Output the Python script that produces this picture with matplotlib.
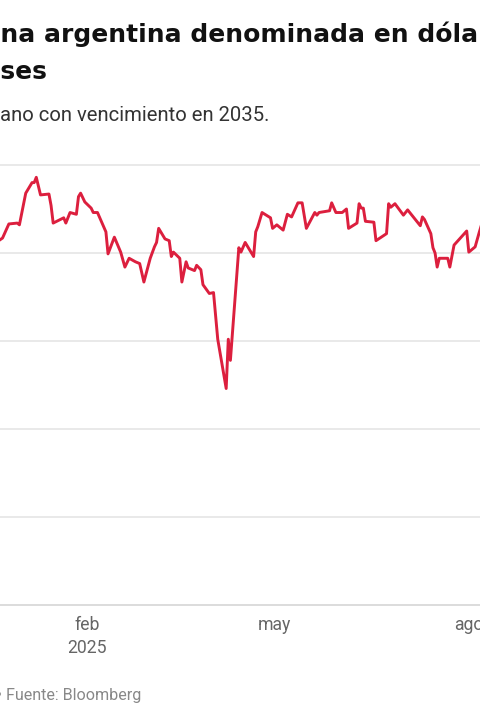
import pandas as pd
import matplotlib.pyplot as plt
import matplotlib.dates as mdates

# bond price
dates = ["2024-12-19", "2024-12-20", "2024-12-23", "2024-12-26", "2024-12-30", "2024-12-31",
         "2025-01-03", "2025-01-06", "2025-01-07", "2025-01-08", "2025-01-10", "2025-01-14",
         "2025-01-15", "2025-01-16", "2025-01-21", "2025-01-22", "2025-01-24", "2025-01-27",
         "2025-01-28", "2025-01-29", "2025-01-31", "2025-02-03", "2025-02-04", "2025-02-06",
         "2025-02-10", "2025-02-11", "2025-02-14", "2025-02-17", "2025-02-19", "2025-02-21",
         "2025-02-24", "2025-02-26", "2025-02-28", "2025-03-03", "2025-03-05", "2025-03-06",
         "2025-03-07", "2025-03-10", "2025-03-12", "2025-03-13", "2025-03-14", "2025-03-17",
         "2025-03-18", "2025-03-20", "2025-03-21", "2025-03-24", "2025-03-25", "2025-03-27",
         "2025-03-28", "2025-03-31", "2025-04-02", "2025-04-04", "2025-04-08", "2025-04-09",
         "2025-04-10", "2025-04-14", "2025-04-15", "2025-04-17", "2025-04-21", "2025-04-22",
         "2025-04-23", "2025-04-25", "2025-04-29", "2025-04-30", "2025-05-02", "2025-05-05",
         "2025-05-07", "2025-05-09", "2025-05-12", "2025-05-14", "2025-05-16", "2025-05-20",
         "2025-05-21", "2025-05-22", "2025-05-27", "2025-05-28", "2025-05-30", "2025-06-02",
         "2025-06-04", "2025-06-05", "2025-06-09", "2025-06-10", "2025-06-11", "2025-06-12",
         "2025-06-13", "2025-06-17", "2025-06-18", "2025-06-23", "2025-06-24", "2025-06-25",
         "2025-06-27", "2025-07-01", "2025-07-03", "2025-07-09", "2025-07-10", "2025-07-11",
         "2025-07-14", "2025-07-15", "2025-07-16", "2025-07-17", "2025-07-18", "2025-07-22",
         "2025-07-23", "2025-07-25", "2025-07-31", "2025-08-01", "2025-08-04", "2025-08-06",
         "2025-08-07"]
price = [65.3, 65.6, 65.85, 66.65, 66.7, 66.6,
         68.4, 69.0, 69.0, 69.3, 68.3, 68.35,
         67.7, 66.7, 67.0, 66.7, 67.3, 67.2,
         68.2, 68.4, 67.9, 67.55, 67.3, 67.3,
         66.2, 64.95, 65.9, 65.05, 64.2, 64.7,
         64.5, 64.4, 63.35, 64.7, 65.35, 65.6,
         66.4, 65.8, 65.7, 64.8, 65.05, 64.7,
         63.35, 64.5, 64.15, 64.0, 64.3, 64.05,
         63.2, 62.7, 62.75, 60.1, 57.3, 60.1,
         58.9, 65.3, 65.05, 65.6, 64.8, 66.2,
         66.5, 67.3, 67.0, 66.4, 66.6, 66.3,
         67.2, 67.05, 67.85, 67.85, 66.4, 67.3,
         67.15, 67.3, 67.4, 67.85, 67.3, 67.3,
         67.5, 66.4, 66.7, 67.8, 67.55, 67.55,
         66.8, 66.75, 65.7, 66.1, 67.8, 67.6,
         67.8, 67.15, 67.45, 66.55, 67.05, 66.9,
         66.1, 65.3, 65.0, 64.2, 64.7, 64.7,
         64.2, 65.45, 66.25, 65.05, 65.35, 66.2,
         66.6]

y_ticks = [45, 50, 55, 60, 65, 70]
x_ticks = ["2025-02-01", "2025-05-01", "2025-08-01"]
x_labels = ["feb\n2025", "may", "ago"]

title_1 = ("Deuda sobera", "na argentina denominada en dólares")
title_2 = ("en los últimos me", "ses")
subtitle = ("Precio del bono sober", "ano con vencimiento en 2035.")
source = ("Gráfico: LA NACION •", " Fuente: Bloomberg")

plt.rcParams['font.family'] = ['Roboto', 'DejaVu Sans']

W, H = 480, 720
fig = plt.figure(figsize=(W / 100, H / 100), dpi=100)
fig.patch.set_facecolor('white')

# the plot is cropped: it runs off both sides of the picture
ax = fig.add_axes([0, 0.13528, 1, 0.66])
ax.plot(pd.to_datetime(dates), price, color='#dc1f3e', lw=2.1, solid_joinstyle='round')

ax.set_yticks(y_ticks)
ax.set_yticklabels([])
ax.grid(axis='y', color='#e3e3e3', lw=1.1)
ax.get_ygridlines()[0].set_color('#d2d2d2')
ax.set_axisbelow(True)

ax.set_xticks(pd.to_datetime(x_ticks))
ax.set_xticklabels(x_labels, color='#666666', fontsize=12.7, linespacing=1.33)
ax.tick_params(axis='both', length=0)
ax.tick_params(axis='x', pad=-4.5)
for s in ax.spines.values():
    s.set_visible(False)

# limits after the ticks so set_xticks cannot widen them
feb1 = mdates.date2num(pd.Timestamp("2025-02-01"))
ax.set_xlim(feb1 - 41.2, feb1 + 186.3)
ax.set_ylim(44, 71)

renderer = fig.canvas.get_renderer()


def cut_text(y_px, parts, x_px, **kw):
    hidden, shown = parts
    t = fig.text(0, 1 - y_px / H, hidden + shown, va='baseline', ha='left', **kw)
    probe = fig.text(0, 0, hidden, ha='left', **kw)
    w = probe.get_window_extent(renderer).width
    probe.remove()
    t.set_x((x_px - w) / W)
    return t


cut_text(42, title_1, 0, fontsize=18, fontweight='bold', color='#111111',
         family=['DejaVu Sans'])
cut_text(79, title_2, 0, fontsize=18, fontweight='bold', color='#111111',
         family=['DejaVu Sans'])
cut_text(121, subtitle, 0, fontsize=14.6, color='#333333')
cut_text(700, source, 2, fontsize=11.6, color='#888888')

fig.savefig('out.png', dpi=100)
